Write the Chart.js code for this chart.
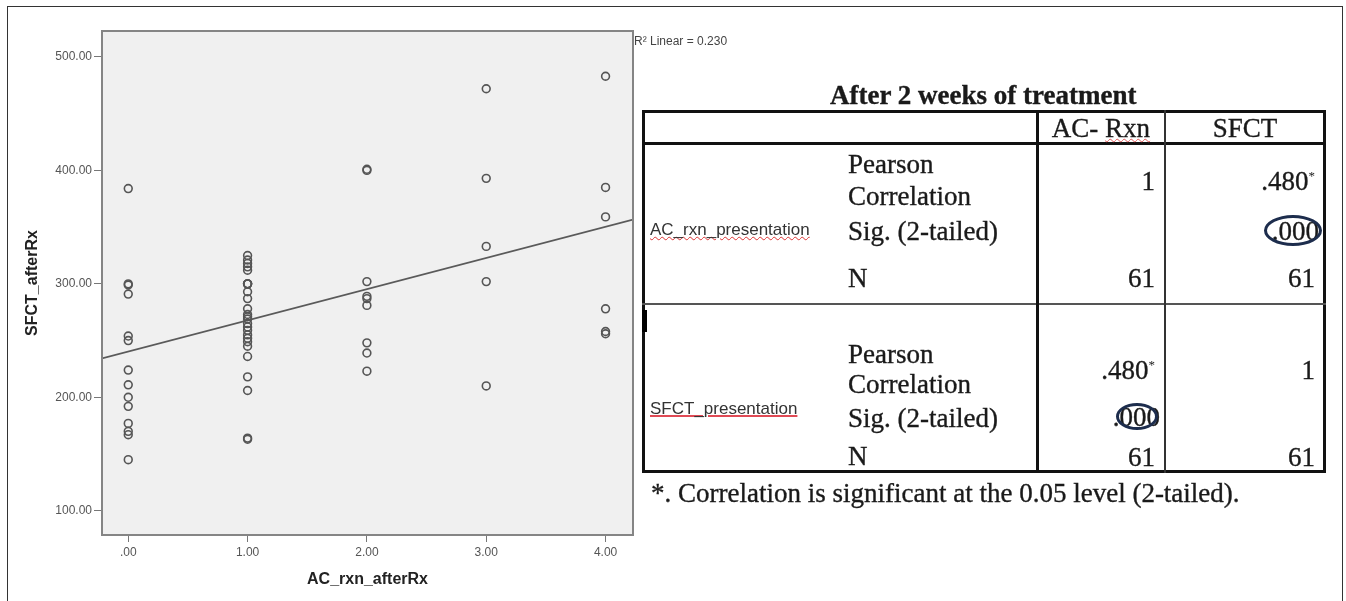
<!DOCTYPE html>
<html lang="en">
<head>
  <meta charset="UTF-8" />
  <title>SFCT vs AC reaction after treatment</title>
  <script src="https://cdn.jsdelivr.net/npm/chart.js"></script>
  <style>
    html, body { margin: 0; padding: 0; background: #fff; }
    .page { position: relative; width: 1346px; height: 601px; overflow: hidden; }
    #scatter { position: absolute; left: 0; top: 0; }
    .frame { position: absolute; left: 7px; top: 6px; width: 1336px; height: 700px; border: 1px solid #333; box-sizing: border-box; }
    .t { position: absolute; font-family: "Liberation Serif", "Times New Roman", serif; font-size: 27px; line-height: 30px; height: 30px; white-space: nowrap; color: #1a1a1a; -webkit-text-stroke: 0.35px #1a1a1a; }
    .r { text-align: right; }
    .lbl { position: absolute; font-family: "Liberation Sans", Arial, sans-serif; font-size: 17px; line-height: 22px; color: #333; white-space: nowrap; }
    .ln { position: absolute; background: #111; }
    .ring { position: absolute; border: 3px solid #1d2d4d; border-radius: 50%; box-sizing: border-box; }
    sup { font-size: 13px; line-height: 0; vertical-align: 10px; -webkit-text-stroke: 0; }
  </style>
</head>
<body>
<div class="page">
  <div class="frame"></div>
  <canvas id="scatter" width="1346" height="601"></canvas>

  <!-- tabela de correlacao -->
  <div class="t" style="left:830px;top:80px;font-weight:bold;">After 2 weeks of treatment</div>

  <div class="ln" style="left:642px;top:110px;width:684px;height:3px;"></div>
  <div class="ln" style="left:642px;top:470px;width:684px;height:3px;"></div>
  <div class="ln" style="left:642px;top:110px;width:3px;height:363px;"></div>
  <div class="ln" style="left:1323px;top:110px;width:3px;height:363px;"></div>
  <div class="ln" style="left:642px;top:142px;width:684px;height:3px;"></div>
  <div class="ln" style="left:642px;top:303px;width:684px;height:2px;background:#555;"></div>
  <div class="ln" style="left:1036px;top:110px;width:3px;height:363px;"></div>
  <div class="ln" style="left:1164px;top:110px;width:2px;height:363px;background:#333;"></div>
  <div class="ln" style="left:642px;top:310px;width:5px;height:22px;background:#000;"></div>

  <div class="t" style="left:1037px;width:128px;top:113px;text-align:center;">AC- <span style="text-decoration:underline wavy #e05a5a;text-decoration-thickness:1px;">Rxn</span></div>
  <div class="t" style="left:1165px;width:160px;top:113px;text-align:center;">SFCT</div>

  <div class="lbl" style="left:650px;top:219px;text-decoration:underline wavy #d33;text-decoration-thickness:1px;">AC_rxn_presentation</div>
  <div class="t" style="left:848px;top:149px;">Pearson</div>
  <div class="t" style="left:848px;top:181px;">Correlation</div>
  <div class="t" style="left:848px;top:216px;">Sig. (2-tailed)</div>
  <div class="t" style="left:848px;top:263px;">N</div>
  <div class="t r" style="right:191px;top:166px;">1</div>
  <div class="t r" style="right:31px;top:166px;">.480<sup>*</sup></div>
  <div class="t r" style="right:27px;top:216px;">.000</div>
  <div class="t r" style="right:191px;top:263px;">61</div>
  <div class="t r" style="right:31px;top:263px;">61</div>
  <div class="ring" style="left:1264px;top:215px;width:58px;height:31px;"></div>

  <div class="lbl" style="left:650px;top:398px;text-decoration:underline solid #e04a55;text-decoration-thickness:2px;">SFCT_presentation</div>
  <div class="t" style="left:848px;top:339px;">Pearson</div>
  <div class="t" style="left:848px;top:369px;">Correlation</div>
  <div class="t" style="left:848px;top:403px;">Sig. (2-tailed)</div>
  <div class="t" style="left:848px;top:441px;">N</div>
  <div class="t r" style="right:191px;top:355px;">.480<sup>*</sup></div>
  <div class="t r" style="right:31px;top:355px;">1</div>
  <div class="t r" style="right:186px;top:402px;">.000</div>
  <div class="t r" style="right:191px;top:442px;">61</div>
  <div class="t r" style="right:31px;top:442px;">61</div>
  <div class="ring" style="left:1116px;top:403px;width:42px;height:27px;"></div>

  <div class="t" style="left:651px;top:478px;">*. Correlation is significant at the 0.05 level (2-tailed).</div>
</div>

<script>
  // valores (SFCT por nivel de AC_rxn)
  const acRxnLevels = [0, 1, 2, 3, 4];
  const sfctAt0 = [384, 300, 299, 291, 254, 250, 224, 211, 200, 192, 177, 170, 167, 145];
  const sfctAt1 = [325, 321, 318, 315, 312, 300, 300, 300, 300, 293, 287, 278, 273, 271, 269,
                   265, 262, 259, 255, 252, 249, 245, 236, 218, 206, 164, 163];
  const sfctAt2 = [401, 400, 302, 289, 287, 281, 248, 239, 223];
  const sfctAt3 = [472, 393, 333, 302, 210];
  const sfctAt4 = [483, 385, 359, 278, 258, 256];
  const xTickLabels = ['.00', '1.00', '2.00', '3.00', '4.00'];
  const yTickValues = [100, 200, 300, 400, 500];
  const yTickLabels = ['100.00', '200.00', '300.00', '400.00', '500.00'];
  const fitIntercept = 240.3;
  const fitSlope = 27.5;
  const rSquaredText = 'R\u00B2 Linear = 0.230';

  const xMin = -0.22, xMax = 4.23;
  const yMin = 78.6, yMax = 522.9;

  const columns = [sfctAt0, sfctAt1, sfctAt2, sfctAt3, sfctAt4];
  const points = [];
  columns.forEach((col, i) => {
    col.forEach(v => points.push({ x: acRxnLevels[i], y: v }));
  });
  const fitLine = [xMin, xMax].map(x => ({ x: x, y: fitIntercept + fitSlope * x }));

  const plotBox = {
    id: 'plotBox',
    beforeDatasetsDraw(chart) {
      const a = chart.chartArea, c = chart.ctx;
      c.save();
      c.fillStyle = '#f0f0f0';
      c.fillRect(a.left, a.top, a.right - a.left, a.bottom - a.top);
      c.restore();
    },
    afterDraw(chart) {
      const a = chart.chartArea, c = chart.ctx;
      c.save();
      c.strokeStyle = '#858585';
      c.lineWidth = 2;
      c.strokeRect(a.left, a.top, a.right - a.left, a.bottom - a.top);
      c.fillStyle = '#444';
      c.font = '12px "Liberation Sans", Arial, sans-serif';
      c.textBaseline = 'middle';
      c.fillText(rSquaredText, a.right + 1, a.top + 11);
      c.restore();
    }
  };

  const tickFont = { family: '"Liberation Sans", Arial, sans-serif', size: 12 };
  const titleFont = { family: '"Liberation Sans", Arial, sans-serif', size: 16, weight: 'bold' };

  new Chart(document.getElementById('scatter'), {
    type: 'scatter',
    data: {
      datasets: [{
        data: points,
        pointStyle: 'circle',
        pointRadius: 3.9,
        pointBorderWidth: 1.6,
        pointBackgroundColor: 'rgba(0,0,0,0)',
        pointBorderColor: '#555'
      }, {
        type: 'line',
        data: fitLine,
        borderColor: '#5a5a5a',
        borderWidth: 1.6,
        pointRadius: 0,
        fill: false
      }]
    },
    options: {
      responsive: false,
      devicePixelRatio: 1,
      animation: false,
      layout: { padding: { left: 0, top: 31, right: 713, bottom: 0 } },
      plugins: { legend: { display: false }, tooltip: { enabled: false } },
      scales: {
        x: {
          type: 'linear',
          min: xMin,
          max: xMax,
          afterBuildTicks: s => { s.ticks = acRxnLevels.map(v => ({ value: v })); },
          afterFit: s => { s.height = 66; },
          ticks: {
            font: tickFont,
            color: '#555',
            padding: 3,
            maxRotation: 0,
            callback: v => xTickLabels[acRxnLevels.indexOf(v)]
          },
          grid: { drawOnChartArea: false, tickLength: 7, color: '#777' },
          border: { display: false },
          title: { display: true, text: 'AC_rxn_afterRx', font: titleFont, color: '#222', padding: { top: 0, bottom: 12 } }
        },
        y: {
          type: 'linear',
          min: yMin,
          max: yMax,
          afterBuildTicks: s => { s.ticks = yTickValues.map(v => ({ value: v })); },
          afterFit: s => { s.width = 102; },
          ticks: {
            font: tickFont,
            color: '#555',
            padding: 2,
            callback: v => yTickLabels[yTickValues.indexOf(v)]
          },
          grid: { drawOnChartArea: false, tickLength: 8, color: '#777' },
          border: { display: false },
          title: { display: true, text: 'SFCT_afterRx', font: titleFont, color: '#222', padding: { top: 23, bottom: 0 } }
        }
      }
    },
    plugins: [plotBox]
  });
</script>
</body>
</html>
